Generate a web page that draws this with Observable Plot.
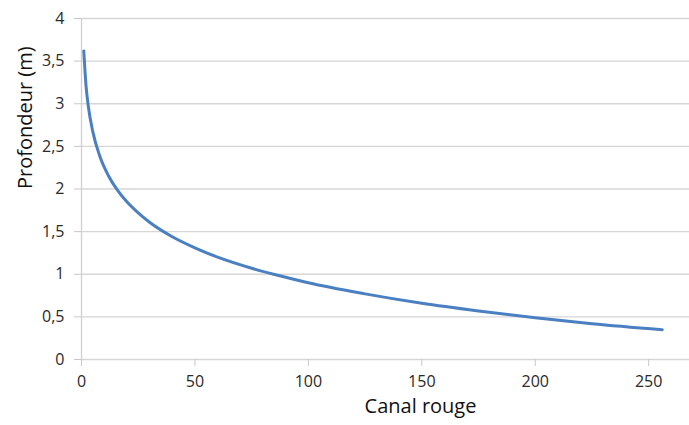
<!DOCTYPE html>
<html>
<head>
<meta charset="utf-8">
<script src="https://cdn.jsdelivr.net/npm/d3@7"></script>
<script src="https://cdn.jsdelivr.net/npm/@observablehq/plot@0.6"></script>
<style>
  html, body { margin: 0; padding: 0; background: #fff; overflow: hidden; }
  #chart svg { display: block; }
</style>
</head>
<body>
<div id="chart"></div>
<script>
// Values
const canalRouge = [1, 2, 3, 5, 8, 12, 16, 20, 25, 30, 40, 50, 60, 75, 90, 100, 125, 150, 175, 200, 225, 256];
const profondeur = [3.62, 3.21, 2.97, 2.67, 2.39, 2.15, 1.98, 1.85, 1.72, 1.61, 1.44, 1.31, 1.20, 1.07, 0.965, 0.90, 0.77, 0.66, 0.57, 0.49, 0.42, 0.35];
const xTicks = [0, 50, 100, 150, 200, 250];
const yTicks = [0, 0.5, 1, 1.5, 2, 2.5, 3, 3.5, 4];
const xLabel = "Canal rouge";
const yLabel = "Profondeur (m)";

const data = canalRouge.map((x, i) => ({x, y: profondeur[i]}));
const fmt = d => String(d).replace(".", ",");
const font = "'Open Sans', 'Noto Sans', sans-serif";

const chart = Plot.plot({
  width: 689,
  height: 425,
  marginLeft: 81,
  marginRight: 0,
  marginTop: 18,
  marginBottom: 66,
  style: {fontFamily: font, fontSize: "16px", background: "#fff", color: "#2a2a2a"},
  x: {domain: [0, 268]},
  y: {domain: [0, 4]},
  marks: [
    Plot.gridY(yTicks, {stroke: "#d6d6d6", strokeOpacity: 1, strokeWidth: 1.3}),
    Plot.ruleX([0], {stroke: "#d0d0d0", strokeWidth: 1.3}),
    Plot.axisY(yTicks, {
      tickSize: 7, tickPadding: 10, tickFormat: fmt, stroke: "#c8c8c8",
      fontSize: 16, fill: "#2a2a2a", label: null
    }),
    Plot.axisX(xTicks, {
      tickSize: 7, tickPadding: 9, tickFormat: fmt, stroke: "#c8c8c8",
      fontSize: 16, fill: "#2a2a2a", label: null
    }),
    Plot.text([yLabel], {
      frameAnchor: "left", rotate: -90, dx: -56, fontSize: 20, fill: "#111",
      fontFamily: font
    }),
    Plot.text([xLabel], {
      frameAnchor: "bottom", dy: 53, dx: 35, fontSize: 20, fill: "#111",
      fontFamily: font
    }),
    Plot.line(data, {
      x: "x", y: "y", stroke: "#4a7fc1", strokeWidth: 3, curve: "monotone-x"
    })
  ]
});
document.getElementById("chart").append(chart);
</script>
</body>
</html>
